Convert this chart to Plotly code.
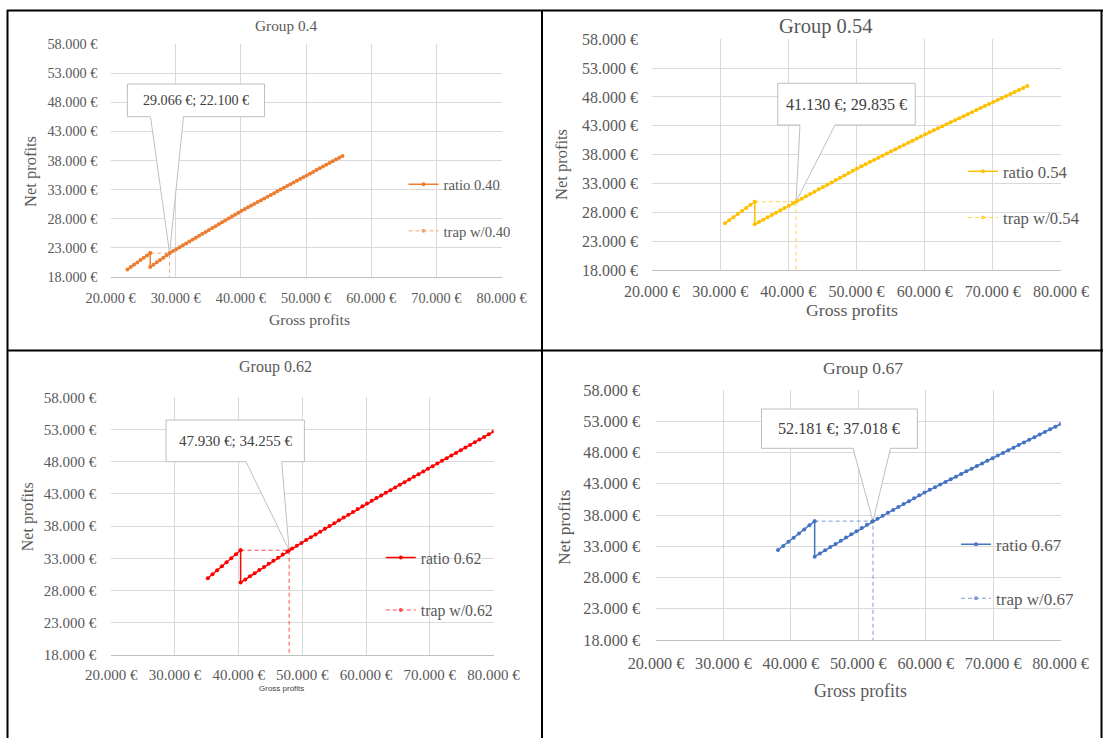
import plotly.graph_objects as go

W, H = 1103, 738
SERIF = "Liberation Serif"
GREY = "#595959"

# ---------------- data ----------------
groups = ["Group 0.4", "Group 0.54", "Group 0.62", "Group 0.67"]
ratios = ["0.40", "0.54", "0.62", "0.67"]
colors = ["#ED7D31", "#FFC000", "#FF0000", "#4472C4"]

x_ticks = [20000, 30000, 40000, 50000, 60000, 70000, 80000]
y_ticks = [18000, 23000, 28000, 33000, 38000, 43000, 48000, 53000, 58000]
x_tick_labels = ["20.000 €", "30.000 €", "40.000 €", "50.000 €", "60.000 €", "70.000 €", "80.000 €"]
y_tick_labels = ["18.000 €", "23.000 €", "28.000 €", "33.000 €", "38.000 €",
                 "43.000 €", "48.000 €", "53.000 €", "58.000 €"]

# Group 0.4
g1_x = [22600, 23100, 23600, 24100, 24600, 25100, 25600, 26100,
        26100, 26600, 27100, 27600, 28100, 28600, 29100, 29600, 30100, 30600,
        31100, 31600, 32100, 32600, 33100, 33600, 34100, 34600, 35100, 35600,
        36100, 36600, 37100, 37600, 38100, 38600, 39100, 39600, 40100, 40600,
        41100, 41600, 42100, 42600, 43100, 43600, 44100, 44600, 45100, 45600,
        46100, 46600, 47100, 47600, 48100, 48600, 49100, 49600, 50100, 50600,
        51100, 51600, 52100, 52600, 53100, 53600, 54100, 54600, 55100, 55600]
g1_y = [19300, 19700, 20100, 20500, 20900, 21300, 21700, 22100,
        19720, 20120, 20520, 20920, 21320, 21720, 22120, 22449, 22778, 23107,
        23436, 23765, 24094, 24423, 24752, 25081, 25410, 25739, 26068, 26397,
        26726, 27055, 27384, 27713, 28042, 28371, 28700, 29029, 29358, 29662,
        29966, 30270, 30574, 30878, 31182, 31486, 31790, 32094, 32398, 32702,
        33006, 33310, 33614, 33918, 34222, 34526, 34830, 35134, 35438, 35742,
        36046, 36350, 36654, 36958, 37262, 37566, 37870, 38174, 38478, 38782]

# Group 0.54
g2_x = [30700, 31325, 31950, 32575, 33200, 33825, 34450, 35075,
        35075, 35700, 36325, 36950, 37575, 38200, 38825, 39450, 40075, 40700,
        41325, 41950, 42575, 43200, 43825, 44450, 45075, 45700, 46325, 46950,
        47575, 48200, 48825, 49450, 50075, 50700, 51325, 51950, 52575, 53200,
        53825, 54450, 55075, 55700, 56325, 56950, 57575, 58200, 58825, 59450,
        60075, 60700, 61325, 61950, 62575, 63200, 63825, 64450, 65075, 65700,
        66325, 66950, 67575, 68200, 68825, 69450, 70075, 70700, 71325, 71950,
        72575, 73200, 73825, 74450, 75075]
g2_y = [26090, 26625, 27160, 27695, 28230, 28765, 29300, 29835,
        25920, 26324, 26728, 27132, 27536, 27940, 28344, 28748, 29152, 29556,
        29960, 30364, 30768, 31172, 31576, 31980, 32384, 32788, 33192, 33596,
        34000, 34404, 34808, 35212, 35616, 35985, 36354, 36723, 37092, 37461,
        37830, 38199, 38568, 38937, 39306, 39675, 40044, 40413, 40782, 41151,
        41520, 41870, 42220, 42570, 42920, 43270, 43620, 43970, 44320, 44670,
        45020, 45370, 45720, 46070, 46420, 46770, 47120, 47470, 47820, 48170,
        48520, 48870, 49220, 49570, 49920]

# Group 0.62
g3_x = [35165, 35900, 36635, 37370, 38105, 38840, 39575, 40310,
        40310, 41045, 41780, 42515, 43250, 43985, 44720, 45455, 46190, 46925,
        47660, 48395, 49130, 49865, 50600, 51335, 52070, 52805, 53540, 54275,
        55010, 55745, 56480, 57215, 57950, 58685, 59420, 60155, 60890, 61625,
        62360, 63095, 63830, 64565, 65300, 66035, 66770, 67505, 68240, 68975,
        69710, 70445, 71180, 71915, 72650, 73385, 74120, 74855, 75590, 76325,
        77060, 77795, 78530, 79265, 80000]
g3_y = [29910, 30531, 31152, 31773, 32394, 33015, 33636, 34255,
        29250, 29733, 30216, 30699, 31182, 31665, 32148, 32631, 33114, 33597,
        34080, 34518, 34956, 35394, 35832, 36270, 36708, 37146, 37584, 38022,
        38460, 38898, 39336, 39774, 40212, 40650, 41088, 41526, 41939, 42352,
        42765, 43178, 43591, 44004, 44417, 44830, 45243, 45656, 46069, 46482,
        46895, 47308, 47721, 48134, 48547, 48960, 49373, 49786, 50199, 50612,
        51025, 51438, 51851, 52264, 52677]

# Group 0.67
g4_x = [38096, 38872, 39648, 40424, 41200, 41976, 42752, 43528,
        43528, 44304, 45080, 45856, 46632, 47408, 48184, 48960, 49736, 50512,
        51288, 52064, 52840, 53616, 54392, 55168, 55944, 56720, 57496, 58272,
        59048, 59824, 60600, 61376, 62152, 62928, 63704, 64480, 65256, 66032,
        66808, 67584, 68360, 69136, 69912, 70688, 71464, 72240, 73016, 73792,
        74568, 75344, 76120, 76896, 77672, 78448, 79224, 80000]
g4_y = [32400, 33060, 33720, 34380, 35040, 35700, 36360, 37018,
        31333, 31843, 32353, 32863, 33373, 33883, 34393, 34903, 35413, 35923,
        36433, 36943, 37410, 37877, 38344, 38811, 39278, 39745, 40212, 40679,
        41146, 41613, 42034, 42455, 42876, 43297, 43718, 44139, 44560, 44981,
        45402, 45823, 46244, 46665, 47086, 47507, 47928, 48349, 48770, 49191,
        49612, 50033, 50454, 50875, 51296, 51717, 52138, 52559]

# trap series: threshold x, trap point (x, y)
trap_start_x = [26100, 35075, 40310, 43528]
trap_x = [29066, 41130, 47930, 52181]
trap_y = [22100, 29835, 34255, 37018]
trap_labels = ["29.066 €; 22.100 €", "41.130 €; 29.835 €",
               "47.930 €; 34.255 €", "52.181 €; 37.018 €"]

series_x = [g1_x, g2_x, g3_x, g4_x]
series_y = [g1_y, g2_y, g3_y, g4_y]

# ---------------- layout / style (pixels) ----------------
plot_px = [  # x0, x1, ytop, ybottom
    (110.5, 501.5, 44.0, 277.0),
    (652.0, 1061.0, 39.3, 270.0),
    (111.2, 493.5, 397.3, 655.0),
    (656.0, 1060.6, 390.0, 640.0),
]
tick_fs = [14.3, 16.0, 15.0, 16.2]
ylab_gap = [12, 13, 14, 15]
xlab_gap = [8, 7, 6, 9]
title_pos = [(285.8, 26.0, 15.3), (825.0, 26.7, 20.5), (275.0, 366.7, 16.0), (862.6, 368.3, 17.6)]
xtitle_pos = [(309.0, 319.0, 15.6), (852.0, 310.0, 17.7), (281.0, 688.3, 8.0), (860.5, 690.7, 17.9)]
ytitle_pos = [(31.0, 172.0, 16.5), (561.0, 165.0, 16.5), (27.5, 516.7, 16.0), (563.3, 526.7, 17.5)]
# text start x, first item centre y, second item centre y, font size
legend_pos = [(443.5, 185.0, 234.0, 14.7), (1003.0, 172.0, 218.0, 16.7),
              (420.8, 558.3, 611.7, 15.8), (996.0, 545.0, 598.3, 17.0)]
callout_box = [  # x0, x1, ytop, ybottom, wedge left, wedge right, font
    (127.4, 264.5, 84.0, 116.7, 150.5, 183.5, 14.1),
    (777.7, 915.2, 83.3, 125.0, 800.0, 835.0, 16.1),
    (166.0, 304.4, 420.0, 461.7, 246.0, 281.7, 15.0),
    (761.5, 917.4, 409.0, 448.3, 853.0, 890.5, 16.2),
]
XR = (20000, 80000)
YR = (18000, 58000)


def pxx(v):
    return v / W


def pyy(v):
    return 1 - v / H


fig = go.Figure()
layout = dict(
    width=W, height=H, margin=dict(l=0, r=0, t=0, b=0, pad=0, autoexpand=False),
    paper_bgcolor="white", plot_bgcolor="white",
    separators=",.", showlegend=True,
    font=dict(family=SERIF, color=GREY),
)
annotations = []
shapes = []

for i in range(4):
    n = i + 1
    xa = "x" if n == 1 else f"x{n}"
    ya = "y" if n == 1 else f"y{n}"
    lg = "legend" if n == 1 else f"legend{n}"
    c = colors[i]
    x0, x1, yt, yb = plot_px[i]

    fig.add_trace(go.Scatter(
        x=series_x[i], y=series_y[i], mode="lines+markers",
        name=f"ratio {ratios[i]}", legend=lg, legendgroup=f"r{n}",
        line=dict(color=c, width=1.5), marker=dict(color=c, size=4),
        xaxis=xa, yaxis=ya, hoverinfo="x+y"))
    fig.add_trace(go.Scatter(
        x=[trap_start_x[i], trap_x[i], trap_x[i]],
        y=[trap_y[i], trap_y[i], 0], mode="lines+markers",
        name=f"trap w/{ratios[i]}", legend=lg, legendgroup=f"t{n}",
        line=dict(color=c, width=1, dash="4px,3px"), marker=dict(color=c, size=4),
        opacity=0.7, xaxis=xa, yaxis=ya, hoverinfo="x+y"))

    tf = dict(family=SERIF, color=GREY, size=tick_fs[i])
    layout[f"xaxis{'' if n == 1 else n}"] = dict(
        domain=[pxx(x0), pxx(x1)], anchor=ya, range=list(XR), automargin=False,
        tickmode="array", tickvals=x_ticks, ticktext=x_tick_labels,
        tickfont=tf, showgrid=True, gridcolor="#d9d9d9", gridwidth=1,
        zeroline=False, showline=True, linecolor="#bfbfbf", linewidth=1,
        ticks="", ticklabelstandoff=xlab_gap[i], fixedrange=True)
    layout[f"yaxis{'' if n == 1 else n}"] = dict(
        domain=[pyy(yb), pyy(yt)], anchor=xa, range=list(YR), automargin=False,
        tickmode="array", tickvals=y_ticks, ticktext=y_tick_labels,
        tickfont=tf, showgrid=True, gridcolor="#d9d9d9", gridwidth=1,
        zeroline=False, showline=False, ticks="",
        ticklabelstandoff=ylab_gap[i], fixedrange=True)

    lx, ly1, ly2, lfs = legend_pos[i]
    gap = (ly2 - ly1) - 24.5
    layout[lg] = dict(
        x=pxx(lx - 40), y=pyy(ly1 - (0.6 * lfs + 8)), xanchor="left", yanchor="top",
        bgcolor="rgba(0,0,0,0)", borderwidth=0, itemwidth=30,
        font=dict(family=SERIF, color=GREY, size=lfs),
        tracegroupgap=gap, traceorder="grouped")

    tx, ty, tfs = title_pos[i]
    annotations.append(dict(text=groups[i], x=pxx(tx), y=pyy(ty), xref="paper", yref="paper",
                            showarrow=False, xanchor="center", yanchor="middle",
                            font=dict(family=SERIF, color=GREY, size=tfs)))
    gx, gy, gfs = xtitle_pos[i]
    xfont = dict(family=SERIF, color=GREY, size=gfs)
    if n == 3:
        xfont = dict(family="Liberation Sans", color="#404040", size=gfs)
    annotations.append(dict(text="Gross profits", x=pxx(gx), y=pyy(gy), xref="paper", yref="paper",
                            showarrow=False, xanchor="center", yanchor="middle", font=xfont))
    nx, ny, nfs = ytitle_pos[i]
    annotations.append(dict(text="Net profits", x=pxx(nx), y=pyy(ny), xref="paper", yref="paper",
                            showarrow=False, xanchor="center", yanchor="middle", textangle=-90,
                            font=dict(family=SERIF, color=GREY, size=nfs)))

    # callout: convert pixel box to data units of this subplot
    def dx(p, x0=x0, x1=x1):
        return XR[0] + (p - x0) / (x1 - x0) * (XR[1] - XR[0])

    def dy(p, yt=yt, yb=yb):
        return YR[0] + (yb - p) / (yb - yt) * (YR[1] - YR[0])

    bx0, bx1, byt, byb, wl, wr, cfs = callout_box[i]
    path = (f"M{dx(bx0)},{dy(byt)} L{dx(bx1)},{dy(byt)} L{dx(bx1)},{dy(byb)} "
            f"L{dx(wr)},{dy(byb)} L{trap_x[i]},{trap_y[i]} L{dx(wl)},{dy(byb)} "
            f"L{dx(bx0)},{dy(byb)} Z")
    shapes.append(dict(type="path", path=path, xref=xa, yref=ya, layer="between",
                       fillcolor="white", line=dict(color="#bfbfbf", width=1)))
    annotations.append(dict(text=trap_labels[i], x=pxx((bx0 + bx1) / 2), y=pyy((byt + byb) / 2),
                            xref="paper", yref="paper", showarrow=False,
                            xanchor="center", yanchor="middle",
                            font=dict(family=SERIF, color="#404040", size=cfs)))

# table borders
for (a, b, c2, d) in [(7, 10.5, 1103, 10.5), (7, 350.5, 1103, 350.5),
                      (7.5, 10, 7.5, 738), (542, 10, 542, 738), (1101.5, 10, 1101.5, 738)]:
    shapes.append(dict(type="line", xref="paper", yref="paper",
                       x0=pxx(a), y0=pyy(b), x1=pxx(c2), y1=pyy(d),
                       line=dict(color="black", width=2)))

layout["annotations"] = annotations
layout["shapes"] = shapes
fig.update_layout(**layout)
fig.write_html("out.html", config={"displayModeBar": False},
               post_script="document.body.style.margin='0px';")
